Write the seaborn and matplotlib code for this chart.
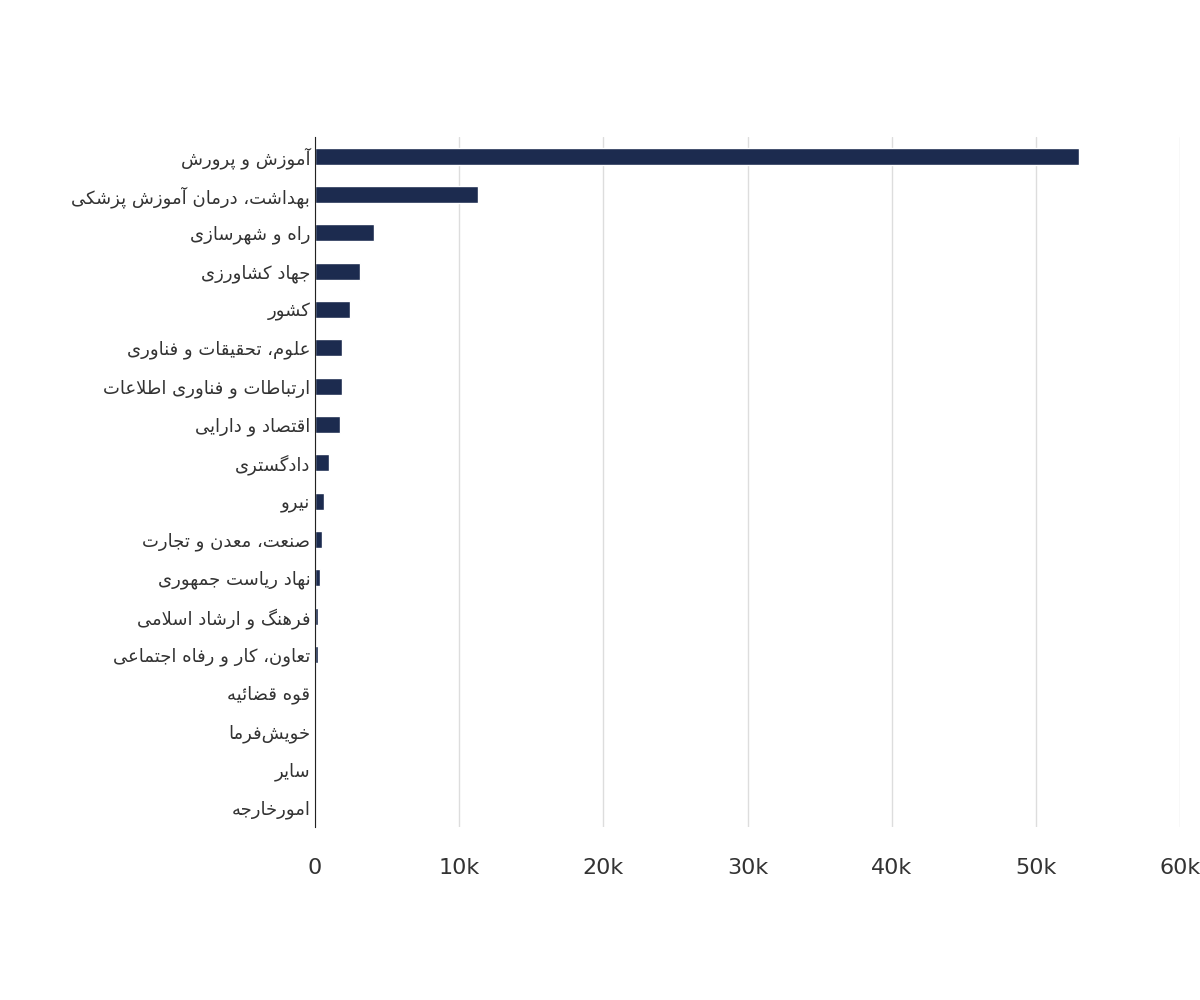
import matplotlib
matplotlib.use("Agg")
import matplotlib.pyplot as plt
import seaborn as sns
import pandas as pd

categories = ["آموزش و پرورش", "بهداشت، درمان آموزش پزشکی", "راه و شهرسازی", "جهاد کشاورزی",
              "کشور", "علوم، تحقیقات و فناوری", "ارتباطات و فناوری اطلاعات", "اقتصاد و دارایی",
              "دادگستری", "نیرو", "صنعت، معدن و تجارت", "نهاد ریاست جمهوری",
              "فرهنگ و ارشاد اسلامی", "تعاون، کار و رفاه اجتماعی", "قوه قضائیه", "خویش‌فرما",
              "سایر", "امورخارجه"]
values = [53000, 11300, 4100, 3100, 2400, 1900, 1900, 1700, 1000, 600, 500, 350,
          220, 200, 20, 10, 5, 5]
x_ticks = [0, 10000, 20000, 30000, 40000, 50000, 60000]
x_ticklabels = ["0", "10k", "20k", "30k", "40k", "50k", "60k"]

# simple Persian shaping: (isolated, final, initial, medial)
FORMS = {
    "ا": (0xFE8D, 0xFE8E, None, None), "آ": (0xFE81, 0xFE82, None, None),
    "ب": (0xFE8F, 0xFE90, 0xFE91, 0xFE92), "پ": (0xFB56, 0xFB57, 0xFB58, 0xFB59),
    "ت": (0xFE95, 0xFE96, 0xFE97, 0xFE98), "ث": (0xFE99, 0xFE9A, 0xFE9B, 0xFE9C),
    "ج": (0xFE9D, 0xFE9E, 0xFE9F, 0xFEA0), "چ": (0xFB7A, 0xFB7B, 0xFB7C, 0xFB7D),
    "ح": (0xFEA1, 0xFEA2, 0xFEA3, 0xFEA4), "خ": (0xFEA5, 0xFEA6, 0xFEA7, 0xFEA8),
    "د": (0xFEA9, 0xFEAA, None, None), "ذ": (0xFEAB, 0xFEAC, None, None),
    "ر": (0xFEAD, 0xFEAE, None, None), "ز": (0xFEAF, 0xFEB0, None, None),
    "ژ": (0xFB8A, 0xFB8B, None, None),
    "س": (0xFEB1, 0xFEB2, 0xFEB3, 0xFEB4), "ش": (0xFEB5, 0xFEB6, 0xFEB7, 0xFEB8),
    "ص": (0xFEB9, 0xFEBA, 0xFEBB, 0xFEBC), "ض": (0xFEBD, 0xFEBE, 0xFEBF, 0xFEC0),
    "ط": (0xFEC1, 0xFEC2, 0xFEC3, 0xFEC4), "ظ": (0xFEC5, 0xFEC6, 0xFEC7, 0xFEC8),
    "ع": (0xFEC9, 0xFECA, 0xFECB, 0xFECC), "غ": (0xFECD, 0xFECE, 0xFECF, 0xFED0),
    "ف": (0xFED1, 0xFED2, 0xFED3, 0xFED4), "ق": (0xFED5, 0xFED6, 0xFED7, 0xFED8),
    "ک": (0xFB8E, 0xFB8F, 0xFB90, 0xFB91), "گ": (0xFB92, 0xFB93, 0xFB94, 0xFB95),
    "ل": (0xFEDD, 0xFEDE, 0xFEDF, 0xFEE0), "م": (0xFEE1, 0xFEE2, 0xFEE3, 0xFEE4),
    "ن": (0xFEE5, 0xFEE6, 0xFEE7, 0xFEE8), "و": (0xFEED, 0xFEEE, None, None),
    "ه": (0xFEE9, 0xFEEA, 0xFEEB, 0xFEEC), "ی": (0xFBFC, 0xFBFD, 0xFBFE, 0xFBFF),
    "ئ": (0xFE89, 0xFE8A, 0xFE8B, 0xFE8C),
}


def shape(text):
    out = []
    n = len(text)
    for i, ch in enumerate(text):
        if ch == "\u200c":
            continue
        if ch not in FORMS:
            out.append(ch)
            continue
        prev = text[i - 1] if i > 0 else ""
        nxt = text[i + 1] if i + 1 < n else ""
        join_prev = prev in FORMS and FORMS[prev][2] is not None
        join_next = nxt in FORMS and FORMS[ch][2] is not None
        iso, fin, ini, med = FORMS[ch]
        if join_prev and join_next:
            c = med
        elif join_prev:
            c = fin
        elif join_next:
            c = ini
        else:
            c = iso
        out.append(chr(c))
    s = "".join(out)
    # lam-alef ligature
    s = s.replace(chr(0xFEDF) + chr(0xFE8E), chr(0xFEFB)).replace(chr(0xFEE0) + chr(0xFE8E), chr(0xFEFC))
    return s[::-1]


df = pd.DataFrame({"cat": categories, "val": values})

sns.set_style("white")
plt.rcParams["font.family"] = ["DejaVu Sans"]

fig = plt.figure(figsize=(12, 10), dpi=100)
ax = fig.add_axes([0.2625, 0.173, 0.721, 0.69])
sns.barplot(data=df, x="val", y="cat", color="#1c2b4f", width=0.45, ax=ax, saturation=1)

ax.set_xlim(0, 60000)
ax.set_xticks(x_ticks)
ax.set_xticklabels(x_ticklabels, fontsize=16, color="#333333")
ax.set_yticks(range(len(categories)))
ax.set_yticklabels([shape(c) for c in categories], fontsize=13, color="#333333")
ax.set_xlabel("")
ax.set_ylabel("")
ax.grid(axis="x", color="#dddddd", linewidth=1)
ax.set_axisbelow(True)
for s in ["top", "right", "bottom"]:
    ax.spines[s].set_visible(False)
ax.spines["left"].set_color("#222222")
ax.tick_params(axis="both", length=0)
ax.tick_params(axis="x", pad=22)

fig.savefig("out.png", dpi=100)
